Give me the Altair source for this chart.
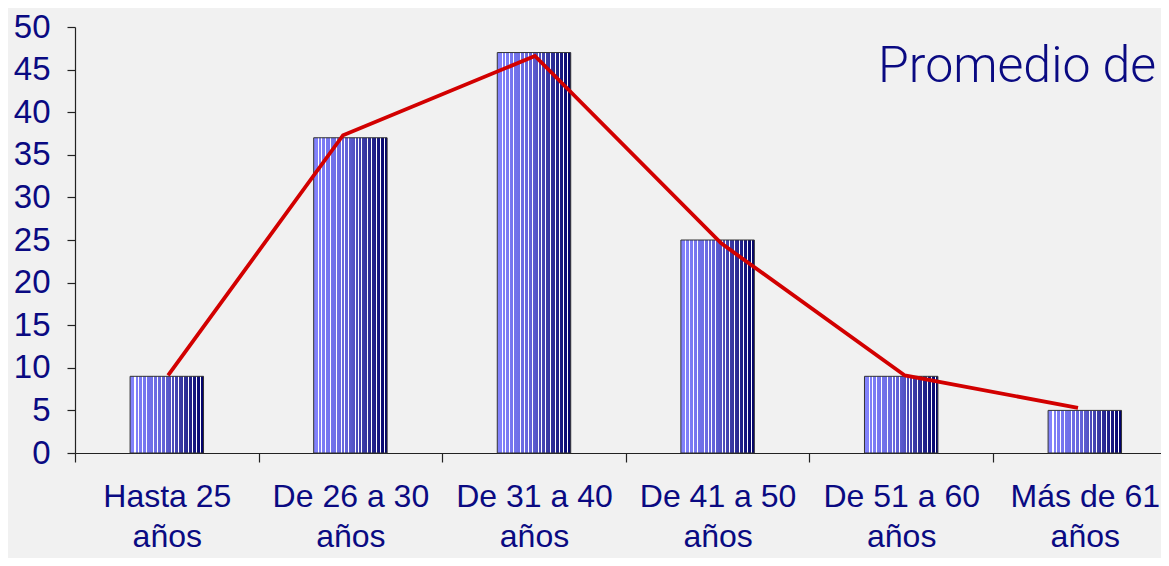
import altair as alt
import pandas as pd

# ---- data ----
categories = [["Hasta 25", "años"], ["De 26 a 30", "años"], ["De 31 a 40", "años"],
              ["De 41 a 50", "años"], ["De 51 a 60", "años"], ["Más de 61", "años"]]
bar_values = [9, 37, 47, 25, 9, 5]
line_pos = [0.507, 1.46, 2.505, 3.52, 4.52, 5.463]
line_values = [9.1, 37.3, 46.6, 24.6, 9.1, 5.3]
title_text = "Promedio de"

bars_df = pd.DataFrame({"idx": list(range(len(bar_values))), "value": bar_values})
line_df = pd.DataFrame({"pos": line_pos, "value": line_values})

# ---- style ----
NAVY = "#0a0a82"
FONT = "Liberation Sans"

def lerp(c1, c2, t):
    return tuple(round(a + (b - a) * t) for a, b in zip(c1, c2))

base_stops = [(0.0, (132, 132, 255)), (0.45, (100, 100, 218)), (0.75, (45, 45, 150)), (1.0, (0, 0, 105))]

def base_color(o):
    for (o1, c1), (o2, c2) in zip(base_stops[:-1], base_stops[1:]):
        if o1 <= o <= o2:
            return "#%02x%02x%02x" % lerp(c1, c2, (o - o1) / (o2 - o1))
    return "#000069"

stripes = [0.06, 0.105, 0.16, 0.22, 0.31, 0.37, 0.415, 0.47, 0.56, 0.6, 0.65, 0.72, 0.785, 0.845, 0.9, 0.955]
sw = 0.014
stops = [alt.GradientStop(color=base_color(0.0), offset=0.0)]
for s in stripes:
    stops.append(alt.GradientStop(color=base_color(s), offset=s))
    stops.append(alt.GradientStop(color="#ffffff", offset=s))
    stops.append(alt.GradientStop(color="#ffffff", offset=s + sw))
    stops.append(alt.GradientStop(color=base_color(s + sw), offset=s + sw))
stops.append(alt.GradientStop(color=base_color(1.0), offset=1.0))
bar_fill = alt.Gradient(gradient="linear", stops=stops, x1=0, x2=1, y1=0, y2=0)

BAND = 183.6
W = 1086
H = 426
XMAX = W / BAND

label_expr = "[" + ",".join("['" + a + "','" + b + "']" for a, b in categories) + "][datum.value]"

x_scale = alt.Scale(domain=[0, XMAX], nice=False, zero=False)
y_scale = alt.Scale(domain=[0, 50], nice=False)

x_axis = alt.Axis(values=list(range(len(categories))), labelExpr=label_expr, labelOffset=BAND / 2,
                  tickSize=9, labelPadding=19, labelAlign="center", labelBaseline="top",
                  labelLineHeight=40, labelFont=FONT, labelFontSize=32, labelColor=NAVY,
                  labelFlush=False, labelOverlap=False, grid=False, title=None,
                  domainColor="#222222", tickColor="#222222", domainWidth=1.2, tickWidth=1.2)
y_axis = alt.Axis(values=list(range(0, 51, 5)), tickSize=8, labelPadding=17, labelFont=FONT,
                  labelFontSize=33, labelColor=NAVY, labelFlush=False, grid=False, title=None,
                  domainColor="#222222", tickColor="#222222", domainWidth=1.2, tickWidth=1.2)

bars = alt.Chart(bars_df).transform_calculate(
    x0="datum.idx + 0.3", x1="datum.idx + 0.7"
).mark_bar(color=bar_fill, stroke="#333333", strokeWidth=1).encode(
    x=alt.X("x0:Q", scale=x_scale, axis=x_axis),
    x2="x1:Q",
    y=alt.Y("value:Q", scale=y_scale, axis=y_axis),
    y2=alt.datum(0),
)

line = alt.Chart(line_df).mark_line(color="#d20000", strokeWidth=3.8).encode(
    x=alt.X("pos:Q", scale=x_scale),
    y=alt.Y("value:Q", scale=y_scale),
)

title = alt.Chart(pd.DataFrame({"t": [title_text]})).mark_text(
    font="Roboto", fontWeight=300, fontSize=50, color=NAVY, align="left", baseline="alphabetic"
).encode(text="t:N", x=alt.value(803), y=alt.value(55))

chart = alt.layer(bars, line, title).properties(
    width=W, height=H,
    autosize=alt.AutoSizeParams(type="none"),
    padding={"left": 67, "top": 19, "right": 0, "bottom": 105},
    background="#f1f1f1",
).configure_view(stroke=None)

chart.save("out.html", embed_options={"renderer": "svg", "actions": False})
